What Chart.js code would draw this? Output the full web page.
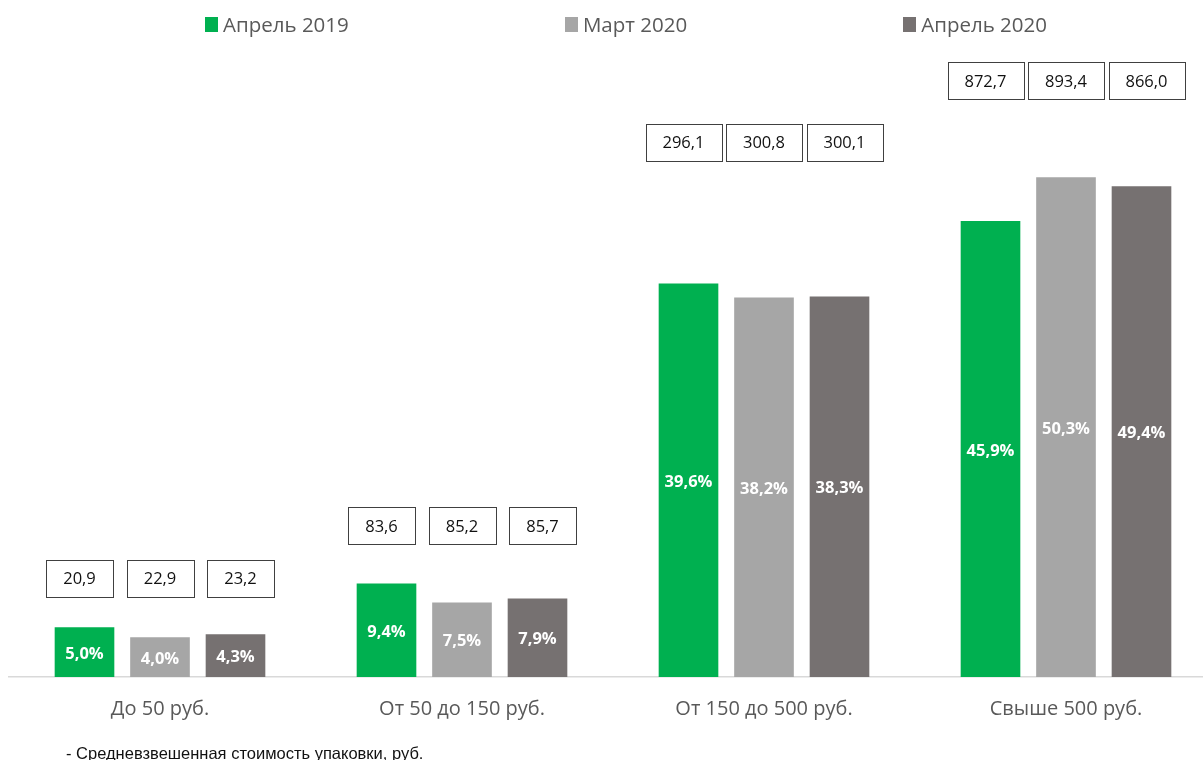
<!DOCTYPE html>
<html lang="ru">
<head>
<meta charset="utf-8">
<title>Структура продаж по ценовым сегментам</title>
<script src="https://cdn.jsdelivr.net/npm/chart.js@4.4.0/dist/chart.umd.min.js"></script>
<style>
    html, body { margin: 0; padding: 0; background: #fff; overflow: hidden; width: 1203px; height: 760px; }
    #wrap { position: absolute; left: 0; top: 0; width: 1250px; height: 760px; }
    #legend {
        position: absolute; left: 205px; top: 10px; width: 842px;
        display: flex; justify-content: space-between; align-items: center;
        font-family: "Open Sans", sans-serif; font-size: 20.5px; color: #595959;
    }
    #legend .item { display: flex; align-items: center; white-space: nowrap; }
    #legend .sw { width: 13px; height: 15px; margin-right: 5px; }
    #note {
        position: absolute; left: 66px; top: 744px;
        font-family: "Liberation Sans", Arial, sans-serif; font-size: 16.5px; color: #111;
        white-space: nowrap;
    }
</style>
</head>
<body>
<div id="wrap"><canvas id="salesChart" width="1250" height="760"></canvas></div>
<div id="legend"></div>
<div id="note">- Средневзвешенная стоимость упаковки, руб.</div>
<script>
// price segments
const categories = ['До 50 руб.', 'От 50 до 150 руб.', 'От 150 до 500 руб.', 'Свыше 500 руб.'];
const seriesNames = ['Апрель 2019', 'Март 2020', 'Апрель 2020'];

// share of sales, %
const sharesApr2019 = [5.0, 9.4, 39.6, 45.9];
const sharesMar2020 = [4.0, 7.5, 38.2, 50.3];
const sharesApr2020 = [4.3, 7.9, 38.3, 49.4];

// weighted average pack price, rub.
const pricesApr2019 = [20.9, 83.6, 296.1, 872.7];
const pricesMar2020 = [22.9, 85.2, 300.8, 893.4];
const pricesApr2020 = [23.2, 85.7, 300.1, 866.0];

const colors = ['#00B050', '#A6A6A6', '#767171'];
// where the price boxes sit for each group (in y-axis units)
const boxLevels = [9.9, 15.2, 53.8, 60.0];

const fmt = v => v.toFixed(1).replace('.', ',');

const shares = [sharesApr2019, sharesMar2020, sharesApr2020];
const prices = [pricesApr2019, pricesMar2020, pricesApr2020];

const valueLabels = {
    id: 'valueLabels',
    afterDatasetsDraw(chart) {
        const ctx = chart.ctx;
        const y = chart.scales.y;
        ctx.save();
        chart.data.datasets.forEach((ds, di) => {
            const meta = chart.getDatasetMeta(di);
            meta.data.forEach((bar, i) => {
                // percent inside bar
                ctx.fillStyle = '#fff';
                ctx.font = 'bold 16.5px "Open Sans", sans-serif';
                ctx.textAlign = 'center';
                ctx.textBaseline = 'middle';
                ctx.fillText(fmt(ds.data[i]) + '%', bar.x, (bar.y + bar.base) / 2 + 2);

                // price box, spread a little wider than the bars
                const txt = fmt(prices[di][i]);
                ctx.font = '16.5px "Open Sans", sans-serif';
                const w = Math.round(ctx.measureText(txt).width + 34);
                const h = 37;
                const cx = bar.x + (di - 1) * 5;
                const cy = y.getPixelForValue(boxLevels[i]);
                const bx = Math.round(cx - w / 2) + 0.5;
                const by = Math.round(cy - h / 2) + 0.5;
                ctx.fillStyle = '#fff';
                ctx.fillRect(bx, by, w, h);
                ctx.strokeStyle = '#404040';
                ctx.lineWidth = 1;
                ctx.strokeRect(bx, by, w, h);
                ctx.fillStyle = '#111';
                ctx.fillText(txt, cx, cy + 1);
            });
        });
        ctx.restore();
    }
};

const ctx = document.getElementById('salesChart').getContext('2d');
const salesChart = new Chart(ctx, {
    type: 'bar',
    data: {
        labels: categories,
        datasets: shares.map((s, i) => ({
            label: seriesNames[i],
            data: s,
            backgroundColor: colors[i],
            borderWidth: 0,
            barPercentage: 0.79,
            categoryPercentage: 0.75
        }))
    },
    options: {
        responsive: false,
        devicePixelRatio: 1,
        animation: false,
        layout: { padding: { left: 9, right: 33, top: 61, bottom: 19 } },
        plugins: {
            legend: { display: false },
            tooltip: { enabled: false }
        },
        scales: {
            x: {
                grid: { display: false, drawTicks: false },
                border: { display: true, color: '#D9D9D9', width: 1.5 },
                ticks: {
                    color: '#595959',
                    padding: 20,
                    font: { family: '"Open Sans", sans-serif', size: 20 }
                }
            },
            y: {
                display: false,
                min: 0,
                max: 62
            }
        }
    },
    plugins: [valueLabels]
});

// legend
const legend = document.getElementById('legend');
salesChart.data.datasets.forEach(ds => {
    const item = document.createElement('div');
    item.className = 'item';
    item.innerHTML = '<span class="sw" style="background:' + ds.backgroundColor + '"></span>' + ds.label;
    legend.appendChild(item);
});
</script>
</body>
</html>
